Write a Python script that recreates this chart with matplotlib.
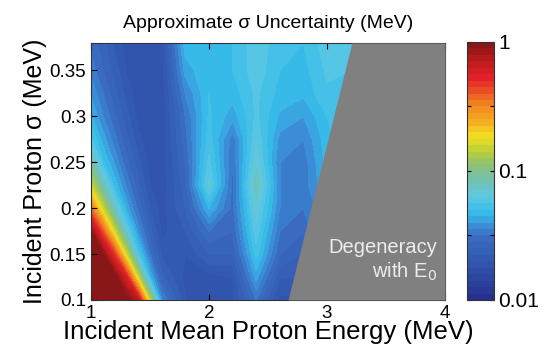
import numpy as np
import matplotlib
matplotlib.use('Agg')
import matplotlib.pyplot as plt
from matplotlib.colors import LinearSegmentedColormap

plt.rcParams['font.family'] = ['Liberation Sans', 'DejaVu Sans']

# Energía media (MeV) y sigma (MeV) de la malla
energia = [1.0, 1.1, 1.2, 1.3, 1.4, 1.5, 1.6, 1.8, 2.0, 2.2, 2.4, 2.6, 2.8, 3.0, 3.2, 3.4]
sigma = [0.1, 0.125, 0.15, 0.175, 0.2, 0.225, 0.25, 0.275, 0.3, 0.325, 0.35, 0.38]

# Incertidumbre aproximada de sigma (MeV), una fila por cada sigma
fila_0100 = [1.0, 1.0, 1.0, 1.0, 0.7, 0.14, 0.0357, 0.0200, 0.0191, 0.0191, 0.0316, 0.0191, 0.0200, 0.0398, 0.0562, 0.0562]
fila_0125 = [1.0, 1.0, 1.0, 0.55, 0.145, 0.0453, 0.0259, 0.0191, 0.0191, 0.0200, 0.0417, 0.0224, 0.0224, 0.0398, 0.0562, 0.0562]
fila_0150 = [1.0, 0.95, 0.46, 0.15, 0.055, 0.0318, 0.0216, 0.0200, 0.0251, 0.0251, 0.0525, 0.0282, 0.0251, 0.0398, 0.0562, 0.0562]
fila_0175 = [0.9, 0.40, 0.15, 0.066, 0.0376, 0.0259, 0.0191, 0.0224, 0.0316, 0.0282, 0.0603, 0.0316, 0.0282, 0.0398, 0.0562, 0.0562]
fila_0200 = [0.35, 0.15, 0.074, 0.043, 0.0302, 0.0223, 0.0188, 0.0251, 0.0447, 0.0302, 0.0680, 0.0355, 0.0316, 0.0398, 0.0562, 0.0562]
fila_0225 = [0.15, 0.081, 0.048, 0.0346, 0.0259, 0.0198, 0.0182, 0.0269, 0.0650, 0.0302, 0.0800, 0.0355, 0.0331, 0.0447, 0.0562, 0.0562]
fila_0250 = [0.088, 0.051, 0.0389, 0.0292, 0.0231, 0.0188, 0.0182, 0.0282, 0.0580, 0.0316, 0.0680, 0.0355, 0.0331, 0.0468, 0.0562, 0.0562]
fila_0275 = [0.058, 0.0423, 0.0329, 0.0259, 0.0208, 0.0182, 0.0182, 0.0302, 0.0530, 0.0331, 0.0620, 0.0380, 0.0355, 0.0479, 0.0562, 0.0562]
fila_0300 = [0.0453, 0.0357, 0.0287, 0.0234, 0.0191, 0.0182, 0.0182, 0.0316, 0.0510, 0.0417, 0.0575, 0.0437, 0.0398, 0.0501, 0.0562, 0.0562]
fila_0325 = [0.0389, 0.0318, 0.0259, 0.0212, 0.0188, 0.0182, 0.0182, 0.0355, 0.0501, 0.0468, 0.0575, 0.0479, 0.0457, 0.0550, 0.0562, 0.0562]
fila_0350 = [0.034, 0.0282, 0.0238, 0.0198, 0.0182, 0.0182, 0.0185, 0.0417, 0.0501, 0.0501, 0.0603, 0.0501, 0.0479, 0.0575, 0.0562, 0.0562]
fila_0380 = [0.0302, 0.0264, 0.0216, 0.0188, 0.0182, 0.0185, 0.0190, 0.0479, 0.0479, 0.0501, 0.0603, 0.0525, 0.0501, 0.0603, 0.0603, 0.0603]

# Límite de la zona degenerada con E0
deg_sigma = [0.1, 0.38]
deg_energia = [2.67, 3.21]

incert = np.array([fila_0100, fila_0125, fila_0150, fila_0175, fila_0200, fila_0225,
                   fila_0250, fila_0275, fila_0300, fila_0325, fila_0350, fila_0380])

# Mapa de color tipo "jet" apagado, como en la figura impresa
colores = [(0.0, '#262e8a'), (0.12, '#3050aa'), (0.24, '#3a6cc2'), (0.29, '#3a90d8'),
           (0.34, '#38bcea'), (0.40, '#5ec8e2'), (0.46, '#72c2b4'), (0.52, '#8cc27a'),
           (0.57, '#b4cc40'), (0.63, '#f2e020'), (0.70, '#f6a822'), (0.77, '#ee7a22'),
           (0.86, '#e42228'), (0.94, '#b41a1a'), (1.0, '#7e1616')]
cmap = LinearSegmentedColormap.from_list('jet_suave', colores)

fig = plt.figure(figsize=(5.43, 3.55), dpi=100)
ax = fig.add_axes([0.1676, 0.155, 0.652, 0.724])
cax = fig.add_axes([0.860, 0.155, 0.049, 0.727])

niveles = np.linspace(-2, 0, 41)
log_incert = np.clip(np.log10(incert), -2, 0)
cs = ax.contourf(energia, sigma, log_incert, levels=niveles, cmap=cmap)
cs.set_edgecolor('face')
cs.set_linewidth(0.3)

ax.fill_betweenx(deg_sigma, deg_energia, 4, color='#808080', lw=0, zorder=3)
ax.text(3.93, 0.143, 'Degeneracy\nwith E$_0$', ha='right', va='center', color='#ececec',
        fontsize=14.5, multialignment='right', linespacing=1.2, zorder=4)

ax.set_xlim(1, 4)
ax.set_ylim(0.1, 0.38)
ax.set_xticks([1, 2, 3, 4])
ax.set_yticks([0.1, 0.15, 0.2, 0.25, 0.3, 0.35])
ax.set_yticklabels(['0.1', '0.15', '0.2', '0.25', '0.3', '0.35'])
ax.tick_params(direction='in', top=True, right=True, labelsize=13.5, length=4, width=0.8)
ax.set_xlabel('Incident Mean Proton Energy (MeV)', fontsize=18.5, labelpad=-1)
ax.set_ylabel('Incident Proton σ (MeV)', fontsize=18, labelpad=2)
ax.set_title('Approximate σ Uncertainty (MeV)', fontsize=14, pad=11)
for s in ax.spines.values():
    s.set_linewidth(0.8)
    s.set_color('#333333')

cb = fig.colorbar(cs, cax=cax)
cb.set_ticks([-2, -1.5, -1, -0.5, 0])
cb.set_ticklabels(['0.01', '', '0.1', '', '1'])
cb.ax.tick_params(direction='in', left=True, right=True, labelsize=15, length=3, width=0.8)
cb.outline.set_linewidth(0.8)
cb.outline.set_edgecolor('#333333')

plt.savefig('out.png', dpi=100)
